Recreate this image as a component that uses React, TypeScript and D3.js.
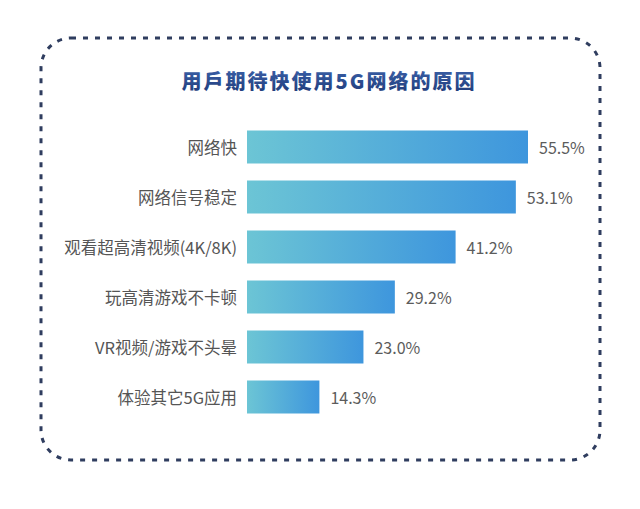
import React from "react";
import * as d3 from "d3";

const title = "用戶期待快使用5G网络的原因";
const categories = [
  "网络快",
  "网络信号稳定",
  "观看超高清视频(4K/8K)",
  "玩高清游戏不卡顿",
  "VR视频/游戏不头晕",
  "体验其它5G应用",
];
const values = [55.5, 53.1, 41.2, 29.2, 23.0, 14.3];
const valueLabels = ["55.5%", "53.1%", "41.2%", "29.2%", "23.0%", "14.3%"];

const W = 640;
const H = 509;

export default function App() {
  const x0 = 247;
  const x = d3.scaleLinear().domain([0, 55.5]).range([x0, x0 + 281]);
  const y = d3
    .scaleBand()
    .domain(categories)
    .range([122, 422])
    .paddingInner(0.34)
    .paddingOuter(0.17);
  const font = "'Noto Sans CJK SC', 'Noto Sans', sans-serif";
  return (
    <svg
      width={W}
      height={H}
      style={{ position: "absolute", left: 0, top: 0, background: "#fff" }}
    >
      <defs>
        <linearGradient id="barGrad" x1="0" x2="1" y1="0" y2="0">
          <stop offset="0%" stopColor="#6cc5d5" />
          <stop offset="100%" stopColor="#3e96dd" />
        </linearGradient>
        <linearGradient id="titleGrad" x1="0" x2="0" y1="0" y2="1">
          <stop offset="0%" stopColor="#3d64ad" />
          <stop offset="100%" stopColor="#1f3a78" />
        </linearGradient>
      </defs>
      <rect
        x={41}
        y={38}
        width={559}
        height={422}
        rx={30}
        ry={30}
        fill="none"
        stroke="#2f3d5f"
        strokeWidth={3}
        strokeDasharray="5 7"
      />
      <text
        x={329}
        y={80}
        textAnchor="middle"
        dominantBaseline="central"
        fontFamily={font}
        fontWeight={900}
        fontSize={20}
        letterSpacing={2}
        fill="url(#titleGrad)"
      >
        {title}
      </text>
      {categories.map((c, i) => {
        const yy = y(c)!;
        const bw = y.bandwidth();
        return (
          <g key={c}>
            <rect
              x={x(0)}
              y={yy}
              width={x(values[i]) - x(0)}
              height={bw}
              fill="url(#barGrad)"
            />
            <text
              x={237}
              y={yy + bw / 2}
              textAnchor="end"
              dominantBaseline="central"
              fontFamily={font}
              fontSize={16.5}
              fill="#555"
            >
              {c}
            </text>
            <text
              x={x(values[i]) + 11}
              y={yy + bw / 2}
              dominantBaseline="central"
              fontFamily={font}
              fontSize={16}
              fill="#5c5c5c"
            >
              {valueLabels[i]}
            </text>
          </g>
        );
      })}
    </svg>
  );
}
